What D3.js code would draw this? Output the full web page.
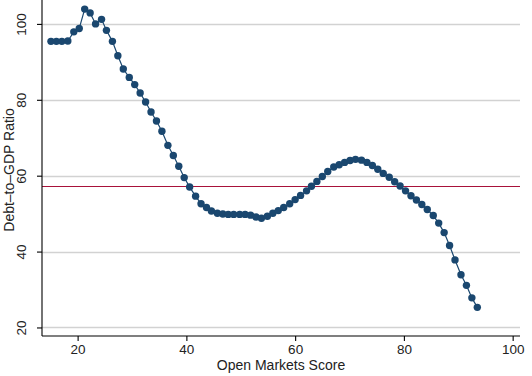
<!DOCTYPE html>
<html><head><meta charset="utf-8">
<script src="https://cdn.jsdelivr.net/npm/d3@7"></script>
<style>body{margin:0;background:#fff}svg text{font-family:"Liberation Sans",Arial,sans-serif;fill:#222}</style>
</head><body><svg id="c" width="532" height="376"></svg>
<script>
const scores = [15.1,16.1,17.1,18.2,19.3,20.3,21.3,22.3,23.3,24.4,25.3,26.4,27.4,28.4,29.5,30.5,31.5,32.5,33.5,34.5,35.5,36.6,37.6,38.6,39.6,40.6,41.7,42.7,43.7,44.6,45.7,46.7,47.7,48.7,49.8,50.8,51.8,52.8,53.8,54.9,55.9,56.9,57.9,59.0,60.0,61.0,62.1,63.0,64.0,65.0,66.0,67.1,68.1,69.1,70.1,71.1,72.2,73.2,74.2,75.2,76.2,77.3,78.3,79.3,80.3,81.3,82.3,83.3,84.3,85.4,86.4,87.4,88.4,89.4,90.5,91.5,92.5,93.5];
const debt = [95.4,95.4,95.4,95.5,97.9,98.8,103.9,102.9,100.0,101.2,98.3,95.4,91.6,88.1,85.9,84.0,81.8,79.4,76.8,74.4,71.7,68.0,65.3,62.5,59.5,57.0,54.6,52.6,51.6,50.7,50.1,49.9,49.8,49.8,49.8,49.8,49.6,49.1,48.8,49.3,50.1,50.8,51.6,52.6,53.7,54.8,56.0,57.2,58.5,59.8,61.1,62.3,62.9,63.5,64.0,64.3,64.1,63.5,62.7,61.7,60.6,59.6,58.4,57.3,56.0,54.7,53.6,52.4,51.1,49.5,47.5,45.0,41.6,37.8,33.9,31.1,27.8,25.3];
const meanLine = [57.3];
const xTicks = [20,40,60,80,100];
const yTicks = [20,40,60,80,100];

const svg = d3.select("#c");
const L = 42, R = 520, T = 0, B = 336;
const x = d3.scaleLinear().domain([13.45, 101.35]).range([L, R]);
const y = d3.scaleLinear().domain([17.75, 106.3]).range([B, T]);
const snap = v => Math.round(v) + 0.5;

// gridlines
svg.append("g").selectAll("line").data(yTicks).join("line")
  .attr("x1", L).attr("x2", R).attr("y1", d => snap(y(d))).attr("y2", d => snap(y(d)))
  .attr("stroke", "#d2d2d2").attr("stroke-width", 1.5);

// reference line
svg.append("g").selectAll("line").data(meanLine).join("line")
  .attr("x1", L).attr("x2", R).attr("y1", d => snap(y(d))).attr("y2", d => snap(y(d)))
  .attr("stroke", "#a8123a").attr("stroke-width", 1.2);

const pts = scores.map((s, i) => [s, debt[i]]);
svg.append("path").datum(pts)
  .attr("d", d3.line().x(d => x(d[0])).y(d => y(d[1])))
  .attr("fill", "none").attr("stroke", "#1a476f").attr("stroke-width", 1.2);
svg.append("g").selectAll("circle").data(pts).join("circle")
  .attr("cx", d => x(d[0])).attr("cy", d => y(d[1])).attr("r", 3.7)
  .attr("fill", "#1a476f");

// axes
const xa = svg.append("g").attr("transform", `translate(0,${B})`)
  .call(d3.axisBottom(x).tickValues(xTicks).tickSize(5).tickPadding(3));
const ya = svg.append("g").attr("transform", `translate(${L},0)`)
  .call(d3.axisLeft(y).tickValues(yTicks).tickSize(5).tickPadding(4));
[xa, ya].forEach(a => {
  a.select(".domain").attr("stroke", "#000").attr("stroke-width", 1.1);
  a.selectAll(".tick line").attr("stroke", "#000").attr("stroke-width", 1.1);
  a.selectAll("text").attr("font-size", 13.5).attr("fill", "#222")
    .attr("font-family", "Liberation Sans, Arial, sans-serif");
});
xa.select(".domain").attr("d", `M${L},0H${R}`);
ya.select(".domain").attr("d", `M0,${T}V${B}`);
ya.selectAll(".tick text")
  .attr("transform", "rotate(-90)")
  .attr("x", 0).attr("y", -16).attr("dy", 0)
  .attr("text-anchor", "middle");

svg.append("text").attr("x", (L + R) / 2).attr("y", 370)
  .attr("text-anchor", "middle").attr("font-size", 14).text("Open Markets Score");
svg.append("text").attr("transform", `translate(14,${(T + B) / 2 + 2}) rotate(-90)`)
  .attr("text-anchor", "middle").attr("font-size", 14).text("Debt\u2013to\u2013GDP Ratio");
</script></body></html>
